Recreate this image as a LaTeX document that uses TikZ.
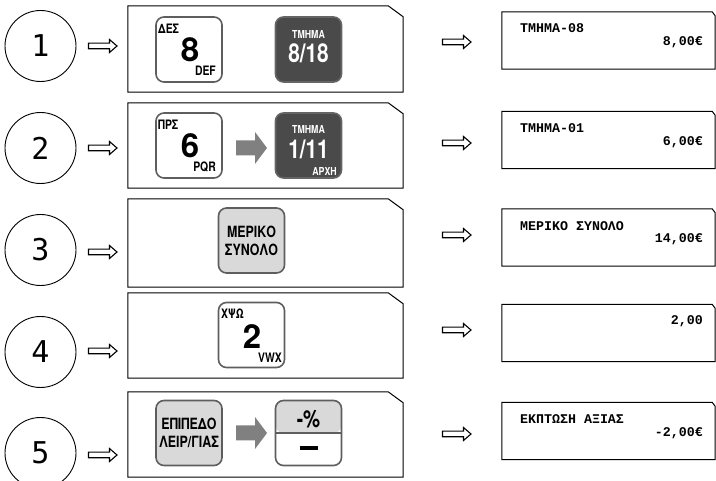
\documentclass[tikz,border=0pt]{standalone}
\usepackage{fontspec}
\usetikzlibrary{positioning}
\newfontfamily\keyfont[FakeStretch=0.8]{TeX Gyre Heros}
\newfontfamily\digitfont{TeX Gyre Heros}
\newfontfamily\lcdfont{Liberation Mono}
\newfontfamily\numfont{DejaVu Sans Mono}
\definecolor{keyrim}{HTML}{5E5E5E}
\definecolor{keygray}{HTML}{D9D9D9}
\definecolor{keydark}{HTML}{4A4A4A}
\definecolor{pointer}{HTML}{808080}
% outline of a box with its top right corner cut off
\newcommand{\cutbox}[3]{\draw[line width=1pt] (#1.south west) |- ([xshift=-#2pt]#1.north east)
  -- ([yshift=-#3pt]#1.north east) |- cycle;}

\begin{document}
\begin{tikzpicture}[x=1pt, y=-1pt,
  stepnum/.style={circle, draw, line width=0.9pt, minimum size=71pt, inner sep=0pt,
                  font=\numfont\fontsize{30}{30}\selectfont},
  hollowarrow/.pic={\draw[line width=1.1pt, fill=white] (-14,-2.8) -- (7,-2.8) -- (7,-6.5)
                    -- (14.5,0) -- (7,6.5) -- (7,2.8) -- (-14,2.8) -- cycle;},
  pushtip/.pic={\fill[pointer] (-15.5,-7.5) -- (3.5,-7.5) -- (3.5,-16) -- (15.5,0)
                -- (3.5,16) -- (3.5,7.5) -- (-15.5,7.5) -- cycle;},
  panel/.style={minimum width=275pt, inner sep=0pt},
  lcd/.style={minimum width=213pt, minimum height=57pt, inner sep=0pt},
  keybtn/.style={rounded corners=8pt, draw=keyrim, line width=1.6pt, fill=white,
                 minimum width=66pt, minimum height=65pt, inner sep=0pt},
  graykey/.style={keybtn, fill=keygray, align=center,
                  font=\keyfont\bfseries\fontsize{15.5}{18}\selectfont},
  darkkey/.style={keybtn, fill=keydark, draw=keydark!85!white, text=white},
  tiny/.style={inner sep=0pt, font=\keyfont\bfseries\fontsize{13}{13}\selectfont},
  small/.style={inner sep=0pt, text=white, font=\keyfont\bfseries\fontsize{11}{11}\selectfont},
  big/.style={inner sep=0pt, font=\digitfont\bfseries\fontsize{33}{33}\selectfont},
  dept/.style={inner sep=0pt, text=white, font=\keyfont\bfseries\fontsize{26}{26}\selectfont},
  lcdtext/.style={inner sep=0pt, font=\lcdfont\bfseries\fontsize{13.3}{13.3}\selectfont},
]
  \useasboundingbox (0,0) rectangle (716,481);

  % step numbers and pointers
  \node[stepnum] (n1) at (40.5,46) {1};
  \node[stepnum] (n2) at (40.5,148) {2};
  \node[stepnum] (n3) at (40.5,250) {3};
  \node[stepnum] (n4) at (40.5,352) {4};
  \node[stepnum] (n5) at (40.5,453) {5};
  \pic (h1) at (102.5,46) {hollowarrow};
  \pic (h2) at (102.5,148) {hollowarrow};
  \pic (h3) at (102.5,252) {hollowarrow};
  \pic (h4) at (102.5,351) {hollowarrow};
  \pic (h5) at (102.5,455) {hollowarrow};

  % key panels
  \node[panel, minimum height=86pt] (p1) at (265.5,49) {};
  \node[panel, minimum height=85pt] (p2) at (265.5,145.5) {};
  \node[panel, minimum height=88pt] (p3) at (265.5,243) {};
  \node[panel, minimum height=85pt] (p4) at (265.5,335.5) {};
  \node[panel, minimum height=85pt] (p5) at (265.5,434.5) {};
  \cutbox{p1}{15}{11} \cutbox{p2}{15}{11} \cutbox{p3}{15}{11}
  \cutbox{p4}{15}{11} \cutbox{p5}{15}{11}

  % step 1
  \node[keybtn] (k1a) at (189,49.5) {};
  \node[tiny, anchor=west] (k1a-top) at (158,29) {ΔΕΣ};
  \node[big] (k1a-mid) at (190,50) {8};
  \node[tiny, anchor=east] (k1a-bot) at (216,71) {DEF};
  \node[darkkey] (k1b) at (308.5,49.5) {};
  \node[small] (k1b-top) at (308.5,34) {ΤΜΗΜΑ};
  \node[dept] (k1b-mid) at (308.5,53) {8/18};

  % step 2
  \node[keybtn] (k2a) at (189,145.5) {};
  \node[tiny, anchor=west] (k2a-top) at (158,125) {ΠΡΣ};
  \node[big] (k2a-mid) at (190,146) {6};
  \node[tiny, anchor=east] (k2a-bot) at (216,167) {PQR};
  \pic (a2) at (251.5,148) {pushtip};
  \node[darkkey] (k2b) at (308.5,145.5) {};
  \node[small] (k2b-top) at (308.5,129.5) {ΤΜΗΜΑ};
  \node[dept] (k2b-mid) at (308.5,149) {1/11};
  \node[small, anchor=east] (k2b-bot) at (337,171) {ΑΡΧΗ};

  % step 3
  \node[graykey] (k3) at (251.5,240.5) {ΜΕΡΙΚΟ\\ΣΥΝΟΛΟ};

  % step 4
  \node[keybtn] (k4) at (251.5,335) {};
  \node[tiny, anchor=west] (k4-top) at (221,314) {ΧΨΩ};
  \node[big] (k4-mid) at (252,337) {2};
  \node[tiny, anchor=east] (k4-bot) at (282,358) {VWX};

  % step 5
  \node[graykey] (k5a) at (189,433) {ΕΠΙΠΕΔΟ\\ΛΕΙΡ/ΓΙΑΣ};
  \pic (a5) at (251.5,433) {pushtip};
  \node[keybtn, path picture={
      \fill[keygray] (path picture bounding box.north west) rectangle (path picture bounding box.east);
      \draw[keyrim, line width=1.2pt] (path picture bounding box.west) -- (path picture bounding box.east);}]
    (k5b) at (308.5,433) {};
  \node[inner sep=0pt, font=\keyfont\bfseries\fontsize{24}{24}\selectfont] (k5b-top) at (308.5,419) {-\%};
  \node[inner sep=0pt] (k5b-bot) at (308.5,448) {\rule{18pt}{4pt}};

  % displays
  \pic (r1) at (456.5,42) {hollowarrow};
  \pic (r2) at (456.5,143) {hollowarrow};
  \pic (r3) at (456.5,235) {hollowarrow};
  \pic (r4) at (456.5,330) {hollowarrow};
  \pic (r5) at (456.5,434) {hollowarrow};
  \node[lcd] (d1) at (608.5,40.5) {};
  \node[lcd] (d2) at (608.5,140) {};
  \node[lcd] (d3) at (608.5,237.5) {};
  \node[lcd] (d4) at (608.5,333) {};
  \node[lcd] (d5) at (608.5,431) {};
  \cutbox{d1}{3}{4} \cutbox{d2}{3}{4} \cutbox{d3}{3}{4} \cutbox{d4}{3}{4} \cutbox{d5}{3}{4}
  \node[lcdtext, anchor=west] (d1-a) at (520,28) {ΤΜΗΜΑ-08};
  \node[lcdtext, anchor=east] (d1-b) at (703,42) {8,00€};
  \node[lcdtext, anchor=west] (d2-a) at (520,128) {ΤΜΗΜΑ-01};
  \node[lcdtext, anchor=east] (d2-b) at (703,142) {6,00€};
  \node[lcdtext, anchor=west] (d3-a) at (520,226) {ΜΕΡΙΚΟ ΣΥΝΟΛΟ};
  \node[lcdtext, anchor=east] (d3-b) at (703,239) {14,00€};
  \node[lcdtext, anchor=east] (d4-a) at (703,321) {2,00};
  \node[lcdtext, anchor=west] (d5-a) at (520,419) {ΕΚΠΤΩΣΗ ΑΞΙΑΣ};
  \node[lcdtext, anchor=east] (d5-b) at (703,433) {-2,00€};
\end{tikzpicture}
\end{document}
